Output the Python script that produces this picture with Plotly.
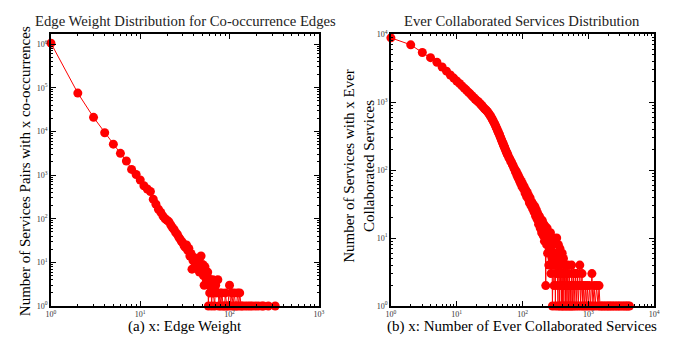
import plotly.graph_objects as go

# ---- Left panel: edge weight distribution ----
edge_weight = [1, 2, 3, 4, 5, 6, 7, 8, 9, 10, 11, 12, 13, 14, 15, 16, 17, 18, 19, 20,
               21, 22, 23, 24, 25, 26, 27, 28, 29, 30, 31, 32, 33, 34, 35, 36, 37, 38, 39, 40,
               41, 42, 43, 44, 45, 46, 47, 48, 49, 50, 51, 52, 53, 54, 55, 56, 57, 58, 59, 60,
               61, 62, 63, 64, 65, 66, 68, 70, 72, 74, 76, 78, 80, 82, 85, 88, 90, 93, 96, 100,
               103, 106, 110, 113, 117, 120, 123, 127, 130, 135, 140, 150, 160, 170, 180, 195,
               210, 230, 240, 272, 325]
pair_count = [1050000, 75500, 21000, 9300, 5100, 3150, 2100, 1350, 1030, 770, 570, 480, 420, 280,
              215, 165, 140, 115, 100, 92, 85, 72, 62, 56, 48, 44, 38, 34, 30, 28, 24, 22, 25, 19,
              21, 14, 16, 7, 11, 13, 10, 12, 8, 9, 11, 6, 8, 14, 7, 9, 5, 3, 8, 6, 4, 5, 6, 1, 3, 2,
              4, 3, 1, 2, 4, 2, 1, 3, 2, 4, 1, 2, 1, 2, 1, 1, 2, 1, 1, 3,
              1, 2, 1, 2, 1, 1, 2, 1, 2, 1, 1, 1, 1, 1, 1, 1,
              1, 1, 1, 1, 1]

# ---- Right panel: ever collaborated services distribution ----
collab_x = [1, 2, 3, 4, 5, 6, 7, 8, 9, 10, 11, 12, 13, 14, 15, 16, 17, 18, 19, 20,
            21, 22, 23, 24, 25, 26, 27, 28, 29, 30, 31, 32, 33, 34, 35, 36, 37, 38, 39, 40,
            41, 42, 43, 44, 45, 46, 47, 48, 49, 50, 51, 52, 53, 54, 55, 56, 57, 58, 59, 60,
            62, 64, 66, 68, 70, 72, 74, 76, 78, 80, 82, 84, 86, 88, 90, 92, 94, 96, 98, 100,
            103, 106, 109, 112, 115, 118, 121, 124, 127, 130, 134, 138, 142, 146, 150, 154,
            158, 162, 166, 170, 175, 180, 185, 190, 195, 200, 205, 210, 215, 220, 225, 228,
            232, 236, 240, 245, 250, 255, 260, 265, 270, 275, 280, 284, 288, 292, 296, 300,
            305, 310, 315, 320, 325, 330, 335, 340, 345, 350, 355, 360, 365, 370, 376, 382,
            388, 394, 400, 406, 412, 418, 424, 430, 437, 444, 451, 458, 465, 472, 480, 488,
            496, 505, 515, 525, 535, 545, 555, 565, 575, 590, 605, 620, 635, 650, 665, 680,
            700, 720, 740, 760, 780, 800, 820, 845, 870, 900, 930, 960, 1000, 1040, 1080, 1130,
            1170, 1220, 1270, 1330, 1400, 1450, 1500, 1580, 1660, 1750, 1850, 1950, 2050, 2150,
            2280, 2400, 2550, 2700, 2850, 3000, 3200, 3400, 3600, 3800, 4000, 4200]
collab_count = [8800, 6950, 5350, 4500, 3850, 3280, 2850, 2500, 2250, 2040, 1880, 1730, 1600, 1500,
                1400, 1320, 1240, 1170, 1110, 1060, 1020, 975, 935, 890, 850, 815, 785, 760, 730,
                700, 670, 640, 610, 580, 550, 520, 495, 470, 445, 420, 398, 375, 358, 340, 322,
                305, 290, 275, 262, 250, 238, 228, 218, 208, 200, 190, 184, 176, 170, 165,
                152, 146, 134, 130, 120, 116, 106, 104, 94, 96, 84, 88, 76, 80, 69, 73, 63, 68, 57, 63,
                53, 57, 46, 51, 41, 47, 38, 42, 33, 39, 30, 34, 27, 31, 24, 29,
                21, 26, 19, 23, 16, 21, 14, 19, 12, 18, 11, 16, 9, 15, 2, 12,
                8, 14, 6, 11, 4, 10, 7, 12, 3, 9, 5, 1, 8, 4, 10, 2,
                9, 5, 1, 6, 3, 10, 2, 5, 1, 8, 3, 4, 1, 7, 2, 5,
                1, 3, 6, 1, 2, 5, 1, 3, 2, 4, 1, 2, 3, 1, 2, 4,
                1, 2, 3, 1, 2, 1, 4, 2, 1, 3, 1, 2, 3, 1, 2, 3,
                1, 2, 4, 1, 2, 3, 1, 2, 1, 2, 1, 2, 1, 2, 1, 3,
                1, 2, 1, 2, 1, 2, 1, 1, 1, 1, 1, 1, 1, 1,
                1, 1, 1, 1, 1, 1, 1, 1, 1, 1, 1, 1]

left_xticks = [1, 10, 100, 1000]
left_yticks = [1, 10, 100, 1000, 10000, 100000, 1000000]
right_xticks = [1, 10, 100, 1000, 10000]
right_yticks = [1, 10, 100, 1000, 10000]


def pow_labels(vals):
    return ["10<sup>%d</sup>" % (len(str(v)) - 1) for v in vals]


def minor_vals(decades):
    out = []
    for d in range(decades):
        for m in range(2, 10):
            out.append(m * 10 ** d)
    return out


RED = "#ff0000"
FONT = "Liberation Serif, Times New Roman, serif"

fig = go.Figure()
fig.add_trace(go.Scatter(x=edge_weight, y=pair_count, mode="lines+markers",
                         line=dict(color=RED, width=1),
                         marker=dict(color=RED, size=9),
                         cliponaxis=False, xaxis="x", yaxis="y", showlegend=False))
fig.add_trace(go.Scatter(x=collab_x, y=collab_count, mode="lines+markers",
                         line=dict(color=RED, width=1),
                         marker=dict(color=RED, size=9),
                         cliponaxis=False, xaxis="x2", yaxis="y2", showlegend=False))

W, H = 675, 342
yd = [1 - 310 / H, 1 - 29 / H]


def axis(domain, rng, ticks, decades, anchor):
    return dict(type="log", domain=domain, range=rng, anchor=anchor,
                tickmode="array", tickvals=ticks, ticktext=pow_labels(ticks),
                ticks="inside", ticklen=5, tickwidth=1, tickcolor="black",
                mirror="allticks", showline=True, linecolor="black", linewidth=1.5,
                showgrid=False, zeroline=False,
                tickfont=dict(family=FONT, size=8, color="#333333"),
                minor=dict(tickmode="array", tickvals=minor_vals(decades),
                           ticks="inside", ticklen=2.5, tickwidth=1, tickcolor="black",
                           showgrid=False))


fig.update_layout(
    width=W, height=H,
    margin=dict(l=0, r=0, t=0, b=0),
    paper_bgcolor="white", plot_bgcolor="white",
    font=dict(family=FONT, color="black"),
    xaxis=axis([46.7 / W, 319 / W], [0, 3], left_xticks, 3, "y"),
    yaxis=axis(yd, [0, 6.23], left_yticks, 7, "x"),
    xaxis2=axis([392.3 / W, 660 / W], [0, 4], right_xticks, 4, "y2"),
    yaxis2=axis(yd, [0, 4], right_yticks, 4, "x2"),
)

ann = [
    dict(text="Edge Weight Distribution for Co-occurrence Edges", x=183 / W, y=1 - 16 / H,
         font=dict(size=14.7, color="#222222")),
    dict(text="Ever Collaborated Services Distribution", x=526 / W, y=1 - 16 / H,
         font=dict(size=14.7, color="#222222")),
    dict(text="(a) x: Edge Weight", x=183 / W, y=1 - 331 / H, font=dict(size=15)),
    dict(text="(b) x: Number of Ever Collaborated Services", x=526 / W, y=1 - 331 / H,
         font=dict(size=15)),
    dict(text="Number of Services Pairs with x co-occurrences", x=20 / W, y=1 - 171 / H,
         textangle=-90, font=dict(size=15)),
    dict(text="Number of Services with x Ever<br>Collaborated Services", x=360 / W,
         y=1 - 165 / H, textangle=-90, font=dict(size=15)),
]
for a in ann:
    a.update(xref="paper", yref="paper", showarrow=False, xanchor="center", yanchor="middle")
    a["font"].setdefault("family", FONT)
fig.update_layout(annotations=ann)

fig.write_html("out.html", config={"displayModeBar": False},
               post_script="document.body.style.margin='0px';")
